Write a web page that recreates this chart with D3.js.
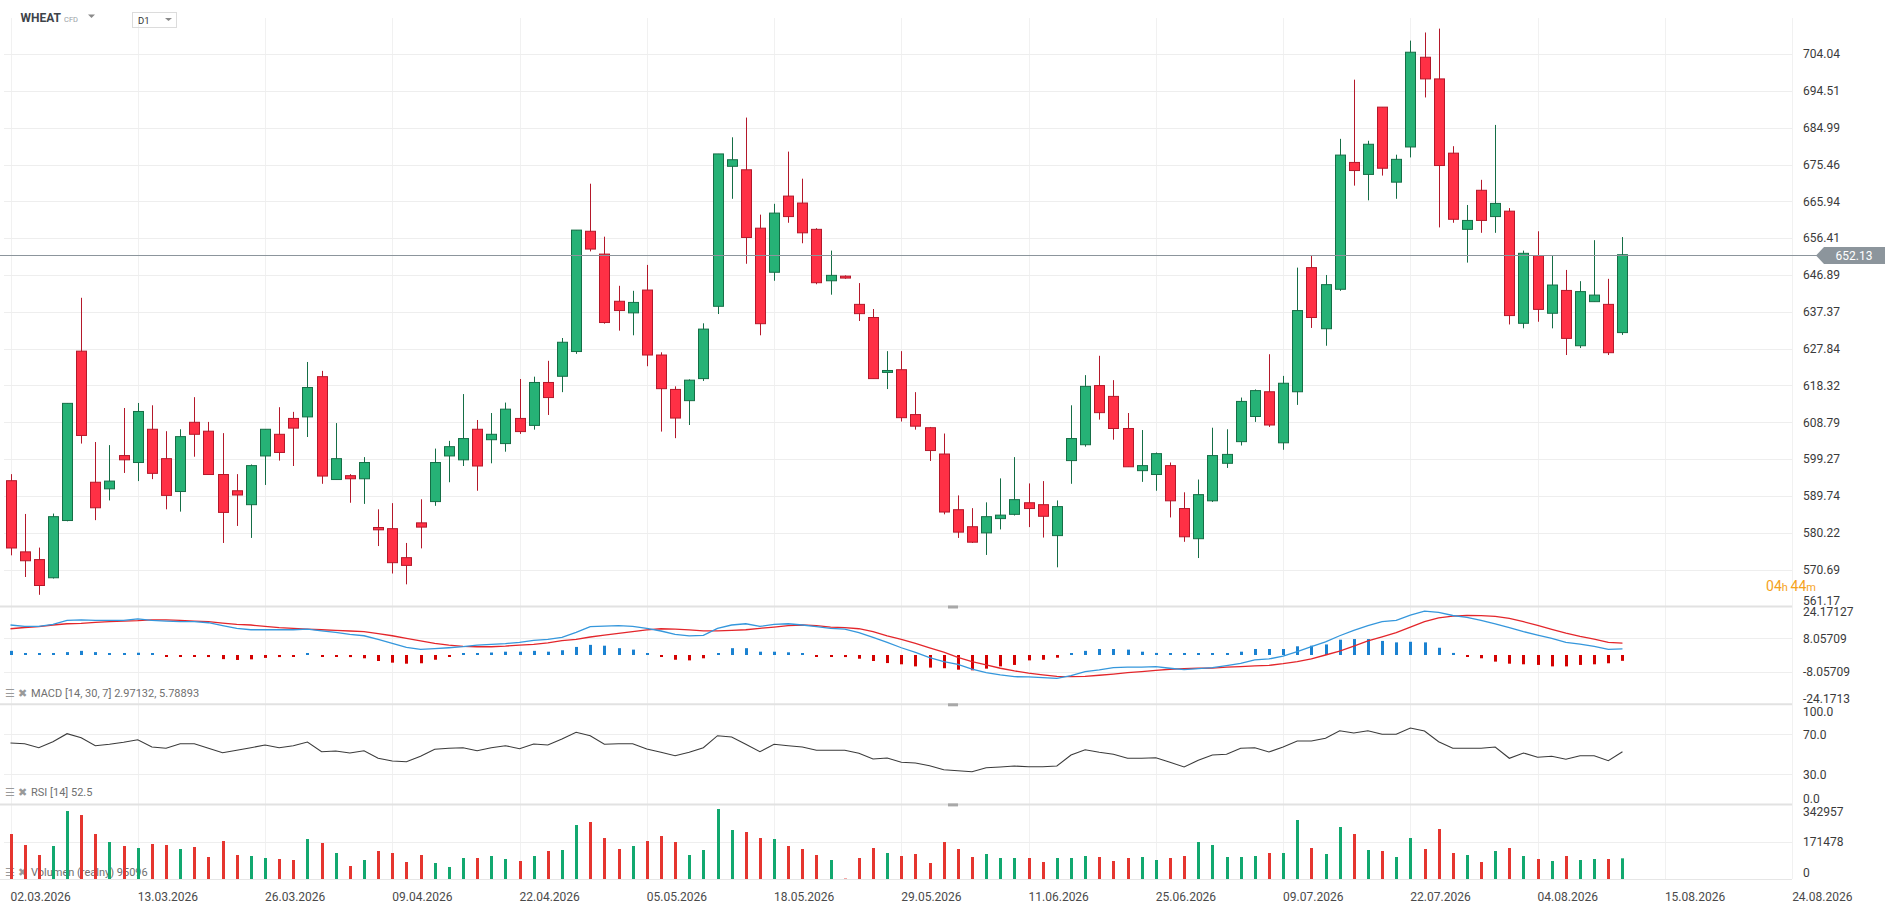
<!DOCTYPE html>
<html>
<head>
<meta charset="utf-8">
<title>WHEAT D1</title>
<script src="https://cdn.jsdelivr.net/npm/d3@7"></script>
<style>
    html, body { margin: 0; padding: 0; background: #fff; overflow: hidden; }
    text { font-family: Roboto, "Liberation Sans", Arial, sans-serif; }
</style>
</head>
<body>
<div id="chart"></div>
<script>
// D A T A  (one value per daily bar)

var dateLabels = ['02.03.2026', '13.03.2026', '26.03.2026', '09.04.2026', '22.04.2026',
    '05.05.2026', '18.05.2026', '29.05.2026', '11.06.2026', '25.06.2026', '09.07.2026',
    '22.07.2026', '04.08.2026', '15.08.2026', '24.08.2026'];
var barsPerLabel = 9;

var priceTicks = [704.04, 694.51, 684.99, 675.46, 665.94, 656.41, 646.89, 637.37,
    627.84, 618.32, 608.79, 599.27, 589.74, 580.22, 570.69, 561.17];
var macdTicks = [24.17127, 8.05709, -8.05709, -24.1713];
var rsiTicks = [100.0, 70.0, 30.0, 0.0];
var volumeTicks = [342957, 171478, 0];

var openP = [593.7, 575.3, 573.3, 568.6, 583.4, 627.2, 593.3, 591.6, 600.2, 598.4,
    607.0, 599.4, 590.9, 608.8, 606.5, 595.3, 591.1, 587.5, 600.1, 605.7,
    609.8, 610.2, 620.6, 594.0, 595.0, 594.2, 581.6, 581.3, 573.8, 582.8,
    588.3, 600.1, 599.1, 607.0, 604.3, 603.3, 609.8, 608.0, 619.1, 620.7,
    627.1, 658.2, 652.3, 640.1, 637.1, 643.0, 626.2, 617.3, 614.4, 620.1,
    638.8, 675.0, 674.1, 659.0, 647.6, 667.3, 665.5, 658.7, 645.4, 646.6,
    639.3, 635.9, 621.7, 622.4, 610.8, 607.4, 600.6, 586.2, 581.8, 580.2,
    583.9, 585.0, 588.0, 587.5, 579.5, 598.9, 603.0, 618.3, 615.5, 607.2,
    596.3, 595.3, 597.6, 586.5, 578.7, 588.5, 598.2, 603.8, 610.3, 616.7,
    603.5, 616.7, 648.8, 633.0, 643.2, 676.0, 672.9, 690.3, 670.9, 680.0,
    703.2, 697.6, 678.4, 658.7, 668.8, 662.0, 663.4, 634.4, 651.9, 637.0,
    642.9, 628.6, 640.0, 639.3, 632.0];

var highP = [595.4, 585.1, 576.4, 585.2, 613.7, 641.0, 603.7, 602.9, 612.5, 613.8,
    613.2, 606.5, 607.0, 615.3, 608.9, 606.0, 595.4, 597.9, 607.0, 612.7,
    611.5, 624.4, 622.1, 608.6, 595.4, 599.8, 586.3, 587.9, 577.6, 588.9,
    602.0, 604.0, 616.1, 609.4, 611.2, 613.9, 620.0, 620.6, 624.7, 630.6,
    658.5, 670.5, 656.8, 644.1, 642.8, 649.5, 626.9, 618.1, 619.9, 634.4,
    678.2, 682.5, 687.6, 662.5, 665.3, 678.8, 671.8, 659.0, 653.2, 646.8,
    644.8, 638.1, 627.2, 627.2, 616.6, 607.6, 605.9, 589.9, 586.6, 588.1,
    594.3, 599.8, 593.0, 593.6, 588.6, 613.2, 621.0, 626.0, 619.7, 611.2,
    606.8, 601.0, 598.4, 590.7, 594.0, 607.4, 607.0, 615.2, 617.3, 626.4,
    620.8, 648.8, 651.8, 646.9, 682.1, 697.4, 681.6, 690.3, 678.0, 707.5,
    709.6, 710.6, 680.2, 665.0, 671.5, 685.7, 664.2, 653.2, 658.2, 651.9,
    648.2, 645.3, 655.9, 645.9, 656.7];

var lowP = [574.4, 568.8, 564.2, 568.4, 583.2, 603.3, 583.5, 588.6, 595.7, 593.6,
    594.1, 586.3, 585.7, 599.9, 595.3, 577.6, 582.0, 578.9, 592.6, 598.9,
    597.5, 605.0, 592.9, 594.0, 588.0, 587.7, 576.8, 569.7, 566.9, 576.2,
    587.2, 593.3, 597.5, 591.1, 598.2, 601.2, 605.8, 606.9, 610.7, 616.6,
    626.5, 653.0, 634.3, 632.5, 631.3, 623.3, 606.4, 604.7, 608.1, 619.5,
    636.8, 666.6, 649.8, 631.3, 645.4, 660.4, 655.1, 644.5, 641.8, 645.9,
    635.0, 620.1, 617.4, 609.0, 606.9, 598.8, 585.0, 578.9, 577.6, 574.5,
    581.1, 584.7, 581.7, 579.0, 571.3, 592.9, 602.5, 609.5, 604.3, 597.3,
    593.4, 591.1, 584.2, 577.9, 573.7, 588.2, 597.0, 602.8, 608.9, 607.6,
    601.7, 613.3, 633.2, 628.6, 642.8, 670.0, 666.2, 672.6, 666.6, 677.3,
    692.8, 659.2, 660.4, 650.1, 657.8, 657.8, 634.1, 633.1, 634.8, 633.1,
    626.2, 628.0, 640.0, 626.2, 631.4];

var closeP = [576.3, 573.0, 566.6, 584.4, 613.7, 605.4, 586.7, 593.6, 599.1, 611.6,
    595.6, 589.9, 605.1, 605.7, 595.3, 585.5, 590.0, 597.6, 607.0, 601.0,
    607.3, 617.8, 594.9, 599.4, 594.2, 598.4, 581.0, 572.5, 571.8, 581.7,
    598.4, 602.5, 604.6, 597.5, 605.7, 612.2, 606.4, 619.1, 615.2, 629.5,
    658.5, 653.6, 634.6, 637.7, 639.8, 626.2, 617.5, 609.9, 619.7, 632.9,
    678.2, 676.7, 656.6, 634.3, 662.9, 662.0, 657.8, 644.9, 646.8, 646.1,
    636.9, 620.1, 622.2, 610.0, 607.8, 601.5, 585.6, 580.4, 577.8, 584.4,
    584.8, 588.8, 586.5, 584.5, 587.0, 604.6, 618.1, 611.3, 607.2, 597.3,
    597.6, 600.7, 588.5, 579.2, 590.1, 600.2, 600.5, 614.2, 617.0, 608.1,
    618.9, 637.7, 635.9, 644.4, 677.9, 673.9, 680.7, 674.5, 676.8, 704.5,
    697.6, 675.2, 661.3, 661.0, 661.0, 665.4, 636.4, 652.5, 638.0, 644.3,
    630.5, 642.6, 641.7, 626.8, 652.13];

var volume = [206800, 156300, 110300, 151700, 312500, 294100, 206800, 170100, 151700, 142500,
    160900, 156300, 137900, 147100, 101100, 174600, 110300, 105700, 96500, 91900,
    87300, 183800, 165500, 119500, 59700, 87300, 128700, 119500, 78100, 110300,
    73500, 55200, 96500, 96500, 105700, 91900, 82700, 105700, 128700, 133300,
    248200, 262000, 188400, 137900, 151700, 174600, 197600, 170100, 110300, 133300,
    321700, 225200, 216000, 188400, 183800, 151700, 137900, 110300, 87300, 2000,
    96500, 142500, 119500, 105700, 114900, 73500, 170100, 137900, 101100, 114900,
    96500, 96500, 96500, 78100, 96500, 96500, 105700, 101100, 82700, 96500,
    101100, 87300, 96500, 105700, 170100, 156300, 101100, 101100, 105700, 119500,
    119500, 271200, 142500, 114900, 239000, 206800, 133300, 128700, 101100, 188400,
    137900, 229800, 119500, 110300, 78100, 128700, 142500, 105700, 91900, 82700,
    105700, 87300, 91900, 91900, 95096];

var macdLine = [14.5, 13.8, 13.8, 14.8, 16.7, 17.0, 16.7, 16.7, 16.7, 17.5,
    16.7, 16.4, 16.1, 16.1, 15.6, 14.2, 12.9, 12.2, 12.2, 12.2,
    12.2, 12.5, 11.7, 10.9, 10.0, 9.3, 7.6, 5.6, 3.7, 2.7,
    3.1, 3.5, 4.0, 4.8, 5.1, 5.5, 6.1, 7.1, 7.6, 8.5,
    10.9, 13.7, 14.0, 14.2, 13.8, 12.9, 11.6, 10.0, 9.2, 9.5,
    12.9, 14.5, 15.1, 13.8, 14.8, 15.1, 14.5, 13.7, 12.9, 12.5,
    10.8, 8.5, 6.1, 3.5, 1.3, -1.3, -3.2, -4.5, -6.8, -8.5,
    -9.6, -10.5, -10.6, -10.9, -11.3, -10.0, -8.0, -7.2, -6.1, -5.9,
    -5.9, -5.6, -6.4, -7.1, -6.6, -6.1, -5.1, -4.0, -2.4, -1.9,
    -0.6, 1.6, 4.0, 6.3, 9.3, 11.9, 14.2, 16.1, 16.7, 19.3,
    21.2, 20.6, 19.1, 18.2, 16.7, 15.0, 13.2, 11.3, 9.6, 8.0,
    6.1, 5.3, 4.2, 2.7, 2.97132];

var signalLine = [12.7, 13.3, 13.7, 14.5, 15.1, 15.3, 15.8, 16.1, 16.4, 16.6,
    17.0, 17.0, 16.7, 16.4, 16.1, 15.4, 14.8, 14.5, 13.8, 13.2,
    12.9, 12.5, 12.2, 11.9, 11.6, 11.3, 10.3, 9.3, 8.0, 6.8,
    5.6, 4.8, 4.2, 4.0, 4.0, 4.3, 4.8, 5.1, 5.9, 6.9,
    7.6, 8.7, 9.6, 10.5, 11.3, 12.1, 12.7, 12.5, 12.1, 11.7,
    11.7, 11.9, 12.2, 12.9, 13.5, 14.2, 14.5, 14.2, 13.5, 13.2,
    12.7, 11.3, 9.3, 7.6, 5.6, 3.5, 1.4, -1.1, -3.2, -4.8,
    -6.4, -7.7, -8.8, -9.6, -10.3, -10.5, -10.3, -9.8, -9.2, -8.5,
    -8.0, -7.4, -6.9, -6.6, -6.4, -6.3, -5.9, -5.6, -5.3, -5.0,
    -4.2, -3.2, -1.9, 0.0, 1.9, 4.3, 6.8, 8.8, 10.8, 13.5,
    16.1, 18.0, 18.8, 19.1, 19.0, 18.7, 17.7, 16.1, 14.3, 12.4,
    10.6, 9.0, 7.7, 6.1, 5.78893];

var macdHist = [2.0, 0.4, 0.2, 0.4, 1.4, 2.0, 1.4, 0.9, 0.8, 1.1,
    0.2, -0.3, -0.3, -0.5, -1.0, -2.0, -2.4, -2.1, -1.4, -1.0,
    -0.7, 0.4, -0.5, -0.8, -1.0, -1.6, -2.9, -3.7, -4.2, -4.0,
    -2.3, -0.7, 0.4, 0.4, 1.2, 1.6, 1.6, 2.0, 1.6, 2.3,
    3.9, 4.9, 4.5, 3.3, 2.6, 0.7, -0.7, -2.3, -2.6, -1.6,
    0.7, 3.3, 3.3, 1.6, 1.6, 1.3, 0.4, -0.5, -0.7, -1.0,
    -1.8, -2.9, -3.9, -4.5, -5.5, -6.1, -6.4, -7.1, -7.4, -6.6,
    -5.5, -4.8, -2.6, -2.3, -1.3, 0.4, 2.0, 2.9, 2.9, 2.6,
    1.6, 1.0, 0.2, 0.1, 0.2, 0.1, 0.4, 1.6, 2.9, 2.9,
    2.9, 4.2, 4.5, 5.1, 7.4, 7.7, 7.7, 6.8, 6.1, 6.4,
    6.1, 3.5, 1.0, -0.3, -1.6, -3.2, -4.2, -4.5, -4.8, -5.5,
    -5.5, -4.8, -4.5, -4.0, -2.82];

var rsiLine = [61.3, 60.6, 56.6, 62.6, 70.6, 66.6, 58.6, 60.0, 62.0, 64.6,
    57.3, 56.0, 60.6, 60.6, 56.0, 51.6, 54.0, 56.6, 59.3, 56.6,
    58.6, 62.3, 52.6, 53.3, 51.3, 53.6, 46.0, 43.3, 42.6, 48.0,
    55.0, 56.0, 56.6, 53.6, 56.6, 58.6, 55.6, 60.3, 59.3, 65.3,
    72.0, 68.6, 60.0, 60.6, 60.6, 55.3, 52.0, 48.6, 52.0, 56.6,
    68.6, 67.3, 60.0, 52.6, 60.0, 58.6, 57.3, 54.0, 54.0, 54.0,
    51.0, 45.3, 46.3, 42.0, 41.3, 38.6, 34.6, 33.6, 32.6, 36.6,
    37.3, 38.3, 37.6, 37.6, 38.3, 49.3, 54.6, 52.0, 50.0, 46.0,
    46.0, 46.6, 42.0, 37.3, 44.0, 49.3, 50.0, 56.0, 56.6, 52.3,
    57.3, 63.3, 63.3, 66.0, 73.6, 71.3, 73.6, 70.0, 70.0, 76.3,
    73.3, 62.6, 56.0, 56.0, 56.0, 57.3, 46.0, 51.3, 47.0, 48.0,
    45.0, 48.6, 48.6, 43.6, 52.5];

var lastPrice = 652.13;

// L A Y O U T
const width = 1897;
const height = 906;
const plotLeft = 4;
const plotRight = 1792;
const labelX = 1803;

const panes = {
    main: { top: 18, bottom: 606.5 },
    macd: { top: 605, bottom: 705 },
    rsi: { top: 704.3, bottom: 804.3 },
    vol: { top: 804.4, bottom: 879 }
};

const upFill = '#26b276', upLine = '#156e46';
const downFill = '#ff3045', downLine = '#b4182a';

var svg = d3.select('#chart').append('svg')
    .attr('width', width)
    .attr('height', height)
    .style('display', 'block');

var nBars = closeP.length;
var x = d3.scaleLinear().domain([0, 126]).range([10.5, 10.5 + 14.14 * 126]);

var yPrice = d3.scaleLinear().domain([561.17, 704.04]).range([panes.main.bottom, 54]);
var yMacd = d3.scaleLinear().domain([-24.17127, 24.17127]).range([panes.macd.bottom, panes.macd.top]);
var yRsi = d3.scaleLinear().domain([0, 100]).range([panes.rsi.bottom, panes.rsi.top]);
var yVol = d3.scaleLinear().domain([0, 342957]).range([panes.vol.bottom, panes.vol.top]);

var bars = d3.range(nBars).map(function (i) {
    return { i: i, o: openP[i], h: highP[i], l: lowP[i], c: closeP[i], up: closeP[i] >= openP[i] };
});

// G R I D
var grid = svg.append('g');

grid.selectAll('.vgrid').data(dateLabels).enter().append('line')
    .attr('x1', function (d, i) { return Math.round(x(i * barsPerLabel)) + 0.5; })
    .attr('x2', function (d, i) { return Math.round(x(i * barsPerLabel)) + 0.5; })
    .attr('y1', panes.main.top)
    .attr('y2', panes.vol.bottom)
    .attr('stroke', '#f1f1f1');

function hGrid(values, scale) {
    grid.selectAll(null).data(values).enter().append('line')
        .attr('x1', plotLeft)
        .attr('x2', plotRight)
        .attr('y1', function (d) { return Math.round(scale(d)) + 0.5; })
        .attr('y2', function (d) { return Math.round(scale(d)) + 0.5; })
        .attr('stroke', '#eeeeee');
}
hGrid(priceTicks.slice(0, -1), yPrice);
hGrid([8.05709, -8.05709], yMacd);
hGrid([70, 30], yRsi);
hGrid([171478], yVol);

// pane separators + handles
var seps = [panes.main.bottom, panes.rsi.top, panes.vol.top];
svg.selectAll('.sep').data(seps).enter().append('line')
    .attr('x1', 0).attr('x2', plotRight)
    .attr('y1', function (d) { return d; }).attr('y2', function (d) { return d; })
    .attr('stroke', '#e2e2e2').attr('stroke-width', 2);
svg.selectAll('.handle').data(seps).enter().append('rect')
    .attr('x', 948).attr('y', function (d) { return d - 1; })
    .attr('width', 10).attr('height', 3)
    .attr('fill', '#a8a8a8');
svg.append('line')
    .attr('x1', 0).attr('x2', plotRight)
    .attr('y1', panes.vol.bottom + 0.5).attr('y2', panes.vol.bottom + 0.5)
    .attr('stroke', '#e6e6e6');

// A X I S  L A B E L S
function axisLabels(values, texts, scale, pane) {
    svg.selectAll(null).data(values).enter().append('text')
        .attr('x', labelX)
        .attr('y', function (d) {
            return Math.max(pane.top + 7, Math.min(pane.bottom - 6, scale(d)));
        })
        .attr('dy', '0.35em')
        .attr('font-size', 12)
        .attr('fill', '#3a3a3a')
        .text(function (d, i) { return texts[i]; });
}
axisLabels(priceTicks, priceTicks.map(function (d) { return d.toFixed(2); }), yPrice, panes.main);
axisLabels(macdTicks, ['24.17127', '8.05709', '-8.05709', '-24.1713'], yMacd, panes.macd);
axisLabels(rsiTicks, rsiTicks.map(function (d) { return d.toFixed(1); }), yRsi, panes.rsi);
axisLabels(volumeTicks, volumeTicks.map(String), yVol, panes.vol);

svg.selectAll('.xlab').data(dateLabels).enter().append('text')
    .attr('x', function (d, i) { return x(i * barsPerLabel); })
    .attr('y', 901)
    .attr('font-size', 12)
    .attr('fill', '#4a4a4a')
    .text(function (d) { return d; });

// C A N D L E S
var candles = svg.append('g');
candles.selectAll('.wick').data(bars).enter().append('line')
    .attr('x1', function (d) { return Math.round(x(d.i)) + 0.5; })
    .attr('x2', function (d) { return Math.round(x(d.i)) + 0.5; })
    .attr('y1', function (d) { return yPrice(d.h); })
    .attr('y2', function (d) { return yPrice(d.l); })
    .attr('stroke', function (d) { return d.up ? upLine : downLine; });

candles.selectAll('.body').data(bars).enter().append('rect')
    .attr('x', function (d) { return Math.round(x(d.i)) - 4.5; })
    .attr('width', 10)
    .attr('y', function (d) { return yPrice(Math.max(d.o, d.c)); })
    .attr('height', function (d) { return Math.max(1.5, Math.abs(yPrice(d.o) - yPrice(d.c))); })
    .attr('fill', function (d) { return d.up ? upFill : downFill; })
    .attr('stroke', function (d) { return d.up ? upLine : downLine; })
    .attr('stroke-width', 1);

// last price line + badge
var yLast = Math.round(yPrice(lastPrice)) + 0.5;
svg.append('line')
    .attr('x1', 0).attr('x2', 1817)
    .attr('y1', yLast).attr('y2', yLast)
    .attr('stroke', '#8c959c').attr('stroke-width', 1.2);
svg.append('path')
    .attr('d', 'M1816,' + yLast + ' L1824,' + (yLast - 8.5) + ' H1885 V' + (yLast + 8.5) + ' H1824 Z')
    .attr('fill', '#8c959c');
svg.append('text')
    .attr('x', 1854).attr('y', yLast).attr('dy', '0.36em')
    .attr('text-anchor', 'middle')
    .attr('font-size', 12).attr('fill', '#fff')
    .text(lastPrice.toFixed(2));

var cd = svg.append('text')
    .attr('x', 1816).attr('y', 591)
    .attr('text-anchor', 'end')
    .attr('fill', '#f5a21b');
cd.append('tspan').attr('font-size', 14).text('04');
cd.append('tspan').attr('font-size', 11).text('h ');
cd.append('tspan').attr('font-size', 14).text('44');
cd.append('tspan').attr('font-size', 11).text('m');

// M A C D
var zeroM = yMacd(0);
svg.append('g').selectAll('rect').data(macdHist).enter().append('rect')
    .attr('x', function (d, i) { return Math.round(x(i)) - 1; })
    .attr('width', 3)
    .attr('y', function (d) { return d >= 0 ? Math.min(yMacd(d), zeroM - 2) : zeroM; })
    .attr('height', function (d) { return Math.max(2, Math.abs(yMacd(d) - zeroM)); })
    .attr('fill', function (d) { return d >= 0 ? '#1b82d1' : '#d40000'; });

var lineM = d3.line().x(function (d, i) { return x(i); }).y(function (d) { return yMacd(d); });
svg.append('path').datum(signalLine).attr('d', lineM)
    .attr('fill', 'none').attr('stroke', '#e3262b').attr('stroke-width', 1.3);
svg.append('path').datum(macdLine).attr('d', lineM)
    .attr('fill', 'none').attr('stroke', '#3597dc').attr('stroke-width', 1.3);

// R S I
var lineR = d3.line().x(function (d, i) { return x(i); }).y(function (d) { return yRsi(d); });
svg.append('path').datum(rsiLine).attr('d', lineR)
    .attr('fill', 'none').attr('stroke', '#3b3b3b').attr('stroke-width', 1.1);

// V O L U M E  legend sits under the bars
function legend(y, label) {
    var g = svg.append('g');
    g.append('text').attr('x', 5).attr('y', y).attr('font-size', 11)
        .attr('font-family', 'DejaVu Sans').attr('fill', '#9a9a9a').text('\u2630');
    g.append('text').attr('x', 18).attr('y', y).attr('font-size', 11)
        .attr('font-family', 'DejaVu Sans').attr('fill', '#9a9a9a').text('\u2716');
    g.append('text').attr('x', 31).attr('y', y).attr('font-size', 11)
        .attr('fill', '#707070').text(label);
}
legend(697, 'MACD [14, 30, 7] ' + macdLine[nBars - 1].toFixed(5) + ', ' + signalLine[nBars - 1].toFixed(5));
legend(796, 'RSI [14] ' + rsiLine[nBars - 1].toFixed(1));
legend(876, 'Volumen (realny) ' + volume[nBars - 1]);

svg.append('g').selectAll('rect').data(volume).enter().append('rect')
    .attr('x', function (d, i) { return Math.round(x(i)) - 1; })
    .attr('width', 3)
    .attr('y', function (d) { return yVol(d); })
    .attr('height', function (d) { return panes.vol.bottom - yVol(d); })
    .attr('fill', function (d, i) { return bars[i].up ? '#12a86f' : '#e5352f'; });

// H E A D E R
svg.append('text').attr('x', 20.5).attr('y', 22)
    .attr('font-size', 12).attr('font-weight', 'bold').attr('fill', '#3d4349').text('WHEAT');
svg.append('text').attr('x', 64).attr('y', 22)
    .attr('font-size', 7.5).attr('fill', '#9aa0a6').text('CFD');
svg.append('path').attr('d', 'M88,14.5 L95,14.5 L91.5,18 Z').attr('fill', '#8a8a8a');
svg.append('rect').attr('x', 132.5).attr('y', 12.5).attr('width', 44).attr('height', 15)
    .attr('fill', 'none').attr('stroke', '#dcdcdc');
svg.append('text').attr('x', 138).attr('y', 24)
    .attr('font-size', 9.5).attr('fill', '#333').text('D1');
svg.append('path').attr('d', 'M165,18 L172,18 L168.5,21 Z').attr('fill', '#8a8a8a');
</script>
</body>
</html>
